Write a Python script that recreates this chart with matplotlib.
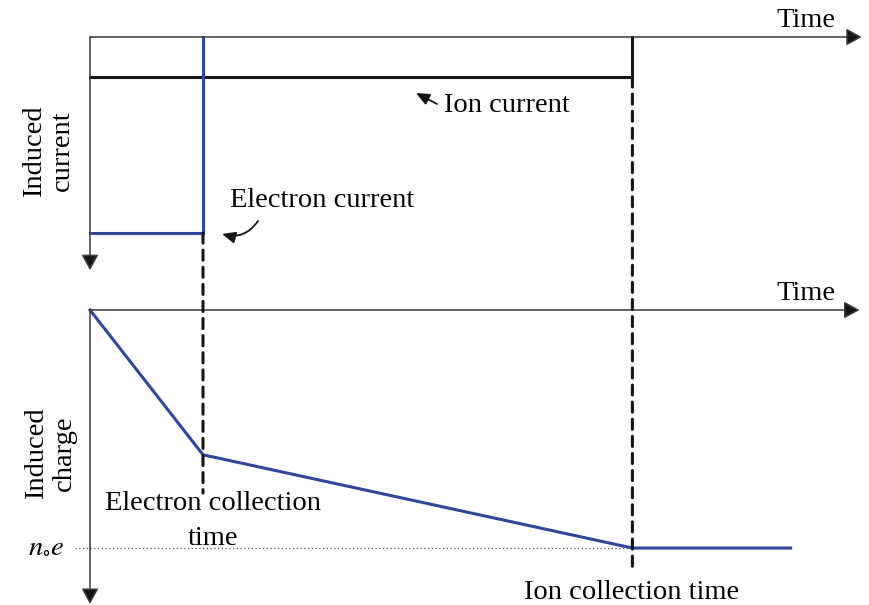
import matplotlib.pyplot as plt
from matplotlib.patches import ConnectionPatch

plt.rcParams['font.family'] = ['Liberation Serif', 'DejaVu Serif']
plt.rcParams['mathtext.fontset'] = 'stix'

# times, in units of the electron collection time
t_elec = 1.0
t_ion = 4.8
t_end = 6.2

# induced current levels (ion current = 1), positive downwards
i_ion = 1.0
i_elec = 4.9

# induced charge at start, electron collection, ion collection, end of trace
q_times = [0.0, t_elec, t_ion, t_end]
q_values = [0.0, 5.9, 9.7, 9.7]

W, H = 869, 605
BLUE = '#2f469e'
DARK = '#151515'
AXC = '#3a3a3a'
FS = 20.5

fig = plt.figure(figsize=(W / 100, H / 100), dpi=100)


def px(x, y):
    # pixel position -> figure fraction
    return x / W, 1 - y / H


# upper panel: induced current, lower panel: induced charge
ax1 = fig.add_axes([0, 1 - 290 / H, 1, 290 / H])
ax2 = fig.add_axes([0, 0, 1, 315 / H])
for ax in (ax1, ax2):
    ax.set_axis_off()
    ax.set_xlim(-90 / 113, 779 / 113)
ax1.set_ylim(253 / 40, -37 / 40)
ax2.set_ylim(295 / 24.54, -20 / 24.54)


def axis_arrow(ax, x1, y1):
    ax.annotate('', xy=(x1, y1), xytext=(0, 0), annotation_clip=False,
                arrowprops=dict(arrowstyle='-|>,head_length=0.95,head_width=0.52',
                                mutation_scale=10, lw=1.1, color=AXC, fc=DARK,
                                shrinkA=0, shrinkB=0))


axis_arrow(ax1, 6.83, 0)
axis_arrow(ax1, 0, 5.83)
axis_arrow(ax2, 6.81, 0)
axis_arrow(ax2, 0, 11.98)

# current pulses
ax1.plot([0, t_ion, t_ion], [i_ion, i_ion, 0], color=DARK, lw=2.2,
         solid_joinstyle='miter', clip_on=False)
ax1.plot([0, t_elec, t_elec], [i_elec, i_elec, 0], color=BLUE, lw=2.2,
         solid_joinstyle='miter', clip_on=False)

# charge build-up
ax2.plot(q_times, q_values, color=BLUE, lw=2.2, clip_on=False)
ax2.plot([-0.13, t_ion], [q_values[2], q_values[2]], ls=(0, (1, 2)), lw=0.9,
         color='#555555')

# dashed markers for the two collection times
for t, y_top, y_bot in [(t_elec, i_elec, 7.46), (t_ion, i_ion, 10.5)]:
    con = ConnectionPatch(xyA=(t, y_top), coordsA=ax1.transData,
                          xyB=(t, y_bot), coordsB=ax2.transData,
                          color=DARK, lw=2.2, linestyle=(0, (3.3, 2.3)))
    fig.add_artist(con)

# labels
fig.text(*px(835, 27), 'Time', ha='right', va='baseline', fontsize=FS)
fig.text(*px(835, 300), 'Time', ha='right', va='baseline', fontsize=FS)
fig.text(*px(444, 112), 'Ion current', ha='left', va='baseline', fontsize=FS)
fig.text(*px(230, 207), 'Electron current', ha='left', va='baseline', fontsize=FS)
fig.text(*px(213, 510), 'Electron collection', ha='center', va='baseline', fontsize=FS)
fig.text(*px(213, 545), 'time', ha='center', va='baseline', fontsize=FS)
fig.text(*px(632, 599), 'Ion collection time', ha='center', va='baseline', fontsize=FS)
fig.text(*px(48, 151), 'Induced\ncurrent', rotation=90, ha='center', va='center',
         ma='center', linespacing=1.15, fontsize=FS)
fig.text(*px(50, 453), 'Induced\ncharge', rotation=90, ha='center', va='center',
         ma='center', linespacing=1.15, fontsize=FS)
fig.text(*px(64, 553), r'$n_{\circ}e$', ha='right', va='baseline', fontsize=FS)

# pointer arrows
ax1.annotate('', xy=px(416, 93), xytext=px(437, 104), xycoords='figure fraction',
             annotation_clip=False,
             arrowprops=dict(arrowstyle='-|>,head_length=0.8,head_width=0.35',
                             mutation_scale=10, lw=1.3, color=DARK,
                             shrinkA=0, shrinkB=0))
ax1.annotate('', xy=px(222, 234), xytext=px(258, 221), xycoords='figure fraction',
             annotation_clip=False,
             arrowprops=dict(arrowstyle='-|>,head_length=0.8,head_width=0.35',
                             mutation_scale=10, lw=1.3, color=DARK,
                             connectionstyle='arc3,rad=-0.35',
                             shrinkA=0, shrinkB=0))

fig.savefig('out.png', dpi=100)
